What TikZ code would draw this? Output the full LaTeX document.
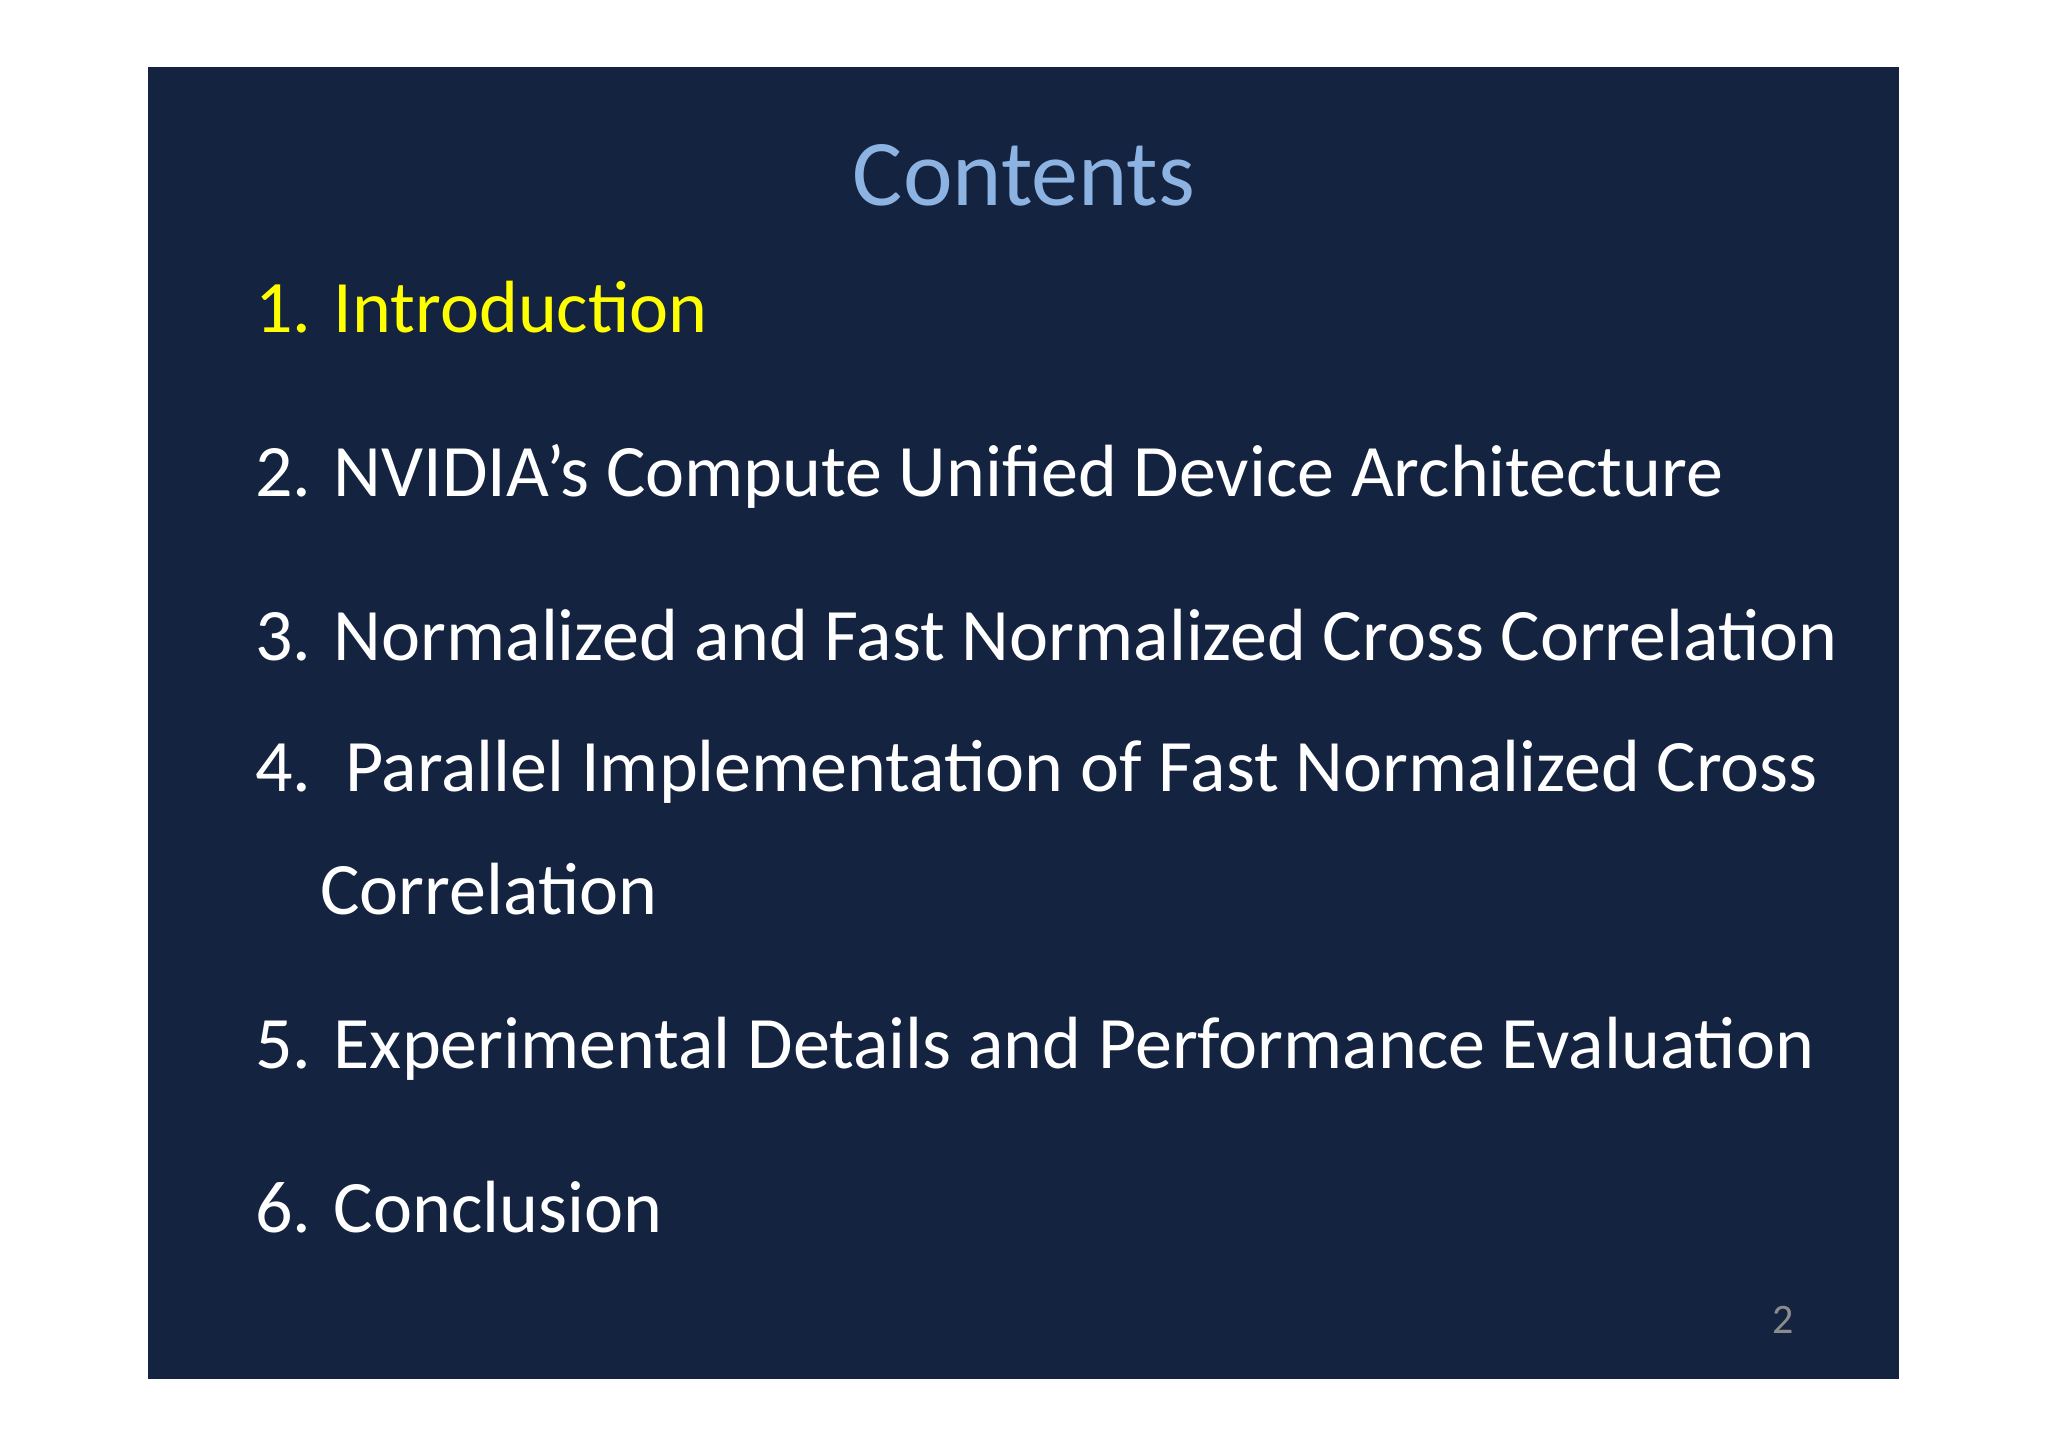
\documentclass[tikz,border=0pt]{standalone}
\usepackage{fontspec}
\setmainfont{Carlito}
\definecolor{bg}{HTML}{14233F}
\definecolor{ttl}{HTML}{8DB3E2}
\definecolor{yel}{HTML}{FFFF00}
\definecolor{pg}{HTML}{8C8C8C}
\begin{document}
\begin{tikzpicture}[x=0.5pt,y=-0.5pt]
\tikzset{item/.style={anchor=base west,inner sep=0,text=white,font=\fontsize{37}{44}\selectfont}}
\useasboundingbox (0,0) rectangle (2048,1447);
\fill[white] (0,0) rectangle (2048,1447);
\fill[bg] (148,67) rectangle (1899,1379);
\node[anchor=base,inner sep=0,text=ttl,font=\fontsize{47}{56}\selectfont] (title) at (1024,205) {Contents};
\node[item,text=yel] (i1) at (255,332) {1. Introduction};
\node[item] (i2) at (255,496) {2. NVIDIA’s Compute Unified Device Architecture};
\node[item] (i3) at (255,660) {3. Normalized and Fast Normalized Cross Correlation};
\node[item] (i4) at (255,791) {4.\ \ Parallel Implementation of Fast Normalized Cross};
\node[item] (i4b) at (320,914) {Correlation};
\node[item] (i5) at (255,1068) {5. Experimental Details and Performance Evaluation};
\node[item] (i6) at (255,1232) {6. Conclusion};
\node[anchor=base,inner sep=0,text=pg,font=\fontsize{21}{25}\selectfont] (pn) at (1783,1333) {2};
\end{tikzpicture}
\end{document}
